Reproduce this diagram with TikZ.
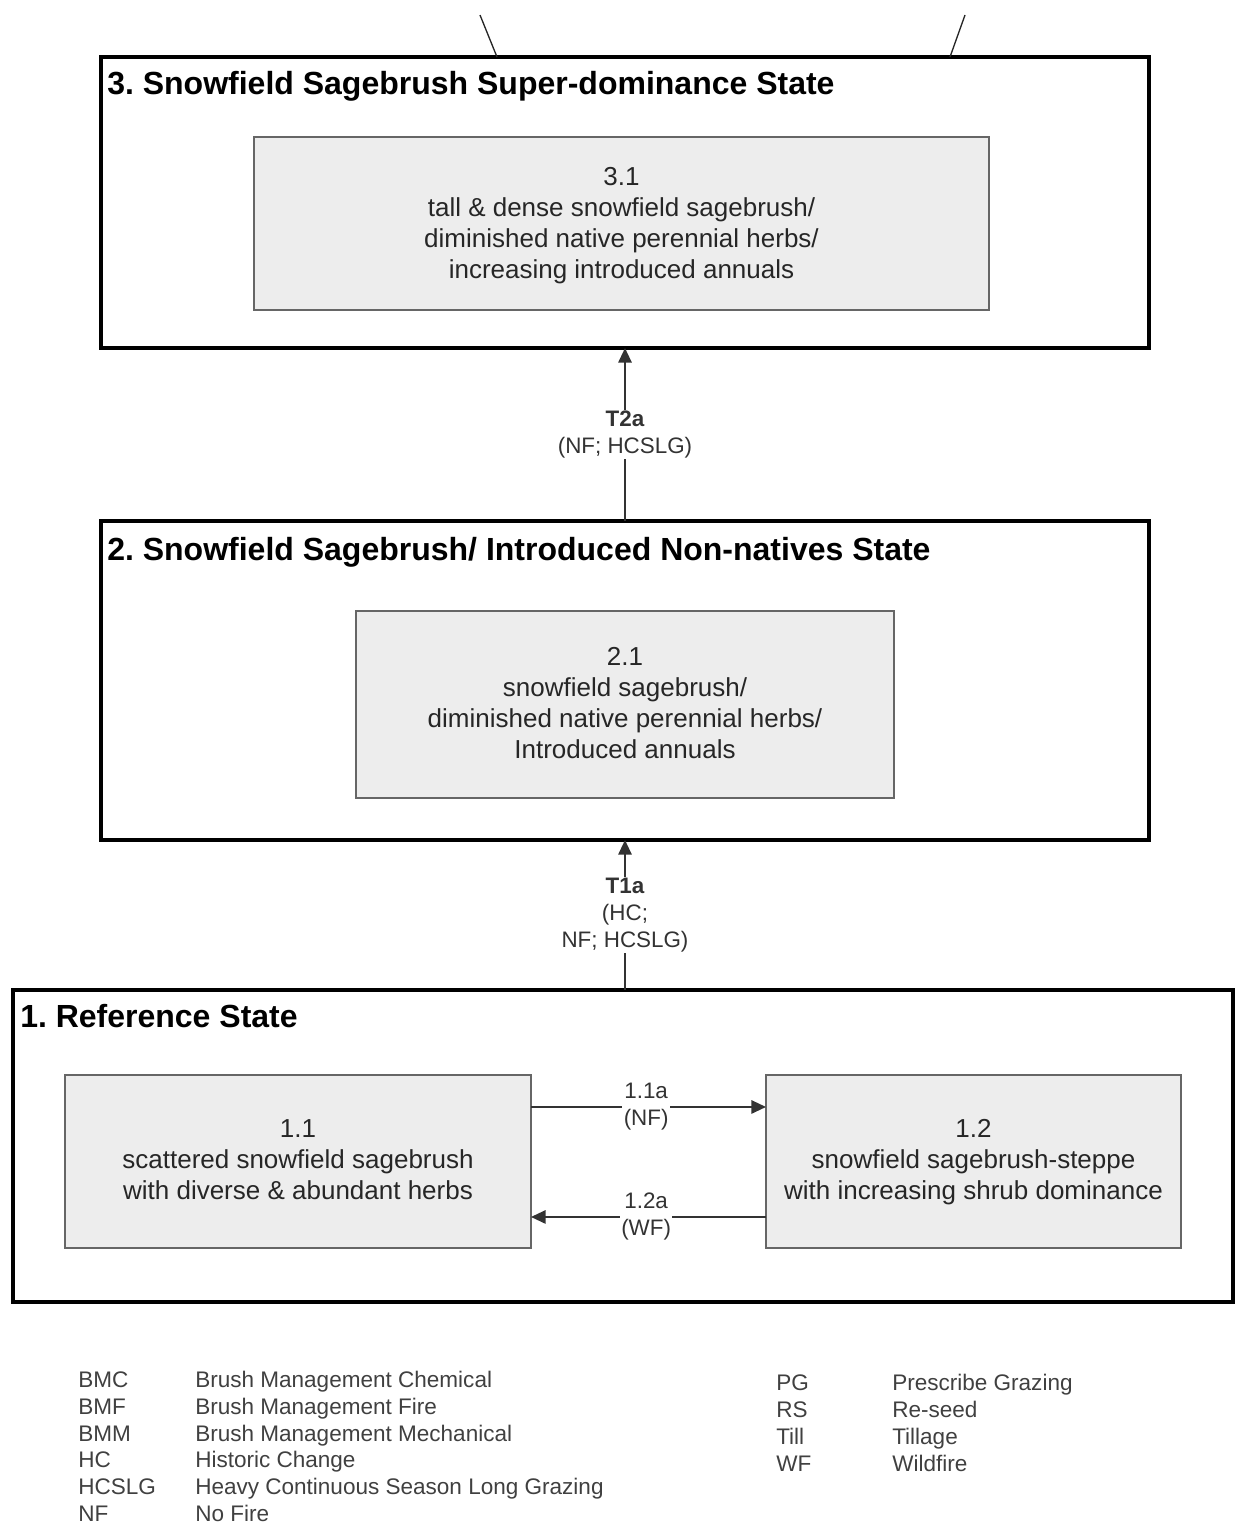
\documentclass[tikz,border=0pt]{standalone}
\usepackage{fontspec}
\setmainfont{Liberation Sans}
\usetikzlibrary{fit,arrows.meta}
\frenchspacing
\begin{document}
\begin{tikzpicture}[x=0.75pt,y=-0.75pt,
  statebox/.style={draw=black,line width=3pt,inner sep=0pt,outer sep=0pt},
  phase/.style={draw=black!60,line width=1pt,fill=black!7,inner sep=0pt,outer sep=0pt},
  phasetext/.style={align=center,inner sep=0pt,font=\fontsize{19.5}{23.25}\selectfont,text=black!85},
  statetitle/.style={anchor=base west,inner sep=0pt,font=\bfseries\fontsize{24}{28}\selectfont},
  lbl/.style={fill=white,align=center,inner sep=1pt,font=\fontsize{16.8}{20.25}\selectfont,text=black!80},
  arr/.style={draw=black!80,line width=1.5pt,-{Triangle[length=11pt,width=10pt]}},
  edge/.style={draw=black!85,line width=1pt},
  legend/.style={anchor=base west,inner sep=0pt,font=\fontsize{16.9}{20}\selectfont,text=black!75},
]
\useasboundingbox (0,0) rectangle (1235,1524);

% State 3
\node[statebox, fit={(101,57) (1149,348)}] (s3) {};
\node[statetitle] (s3t) at (107,94) {3. Snowfield Sagebrush Super-dominance State};
\node[phase, fit={(254,137) (989,310)}] (p31) {};
\node[phasetext, yshift=-1.5pt] (x31) at (p31.center) {3.1\\tall \& dense snowfield sagebrush/\\diminished native perennial herbs/\\increasing introduced annuals};

% lines leaving the top
\coordinate (up1) at (480,15);
\coordinate (up2) at (965,15);
\draw[edge] (up1) -- ([xshift=297pt]s3.north west);
\draw[edge] (up2) -- ([xshift=636.75pt]s3.north west);

% State 2
\node[statebox, fit={(101,521) (1149,840)}] (s2) {};
\node[statetitle] (s2t) at (107,560) {2. Snowfield Sagebrush/ Introduced Non-natives State};
\node[phase, fit={(356,611) (894,798)}] (p21) {};
\node[phasetext, yshift=0.75pt] (x21) at (p21.center) {2.1\\snowfield sagebrush/\\diminished native perennial herbs/\\Introduced annuals};

% State 1
\node[statebox, fit={(13,990) (1233,1302)}] (s1) {};
\node[statetitle] (s1t) at (20,1027) {1. Reference State};
\node[phase, fit={(65,1075) (531,1248)}] (p11) {};
\node[phasetext, yshift=1.15pt] (x11) at (p11.center) {1.1\\scattered snowfield sagebrush\\with diverse \& abundant herbs};
\node[phase, fit={(766,1075) (1181,1248)}] (p12) {};
\node[phasetext, yshift=-0.35pt] (x12) at (p12.center) {1.2\\snowfield sagebrush-steppe\\with increasing shrub dominance};

% transitions
\draw[arr] (s2.north) -- node[lbl] (lT2a) {\textbf{T2a}\\(NF; HCSLG)} (s3.south);
\draw[arr] (s1.north -| s2.north) -- node[lbl] (lT1a) {\textbf{T1a}\\(HC;\\NF; HCSLG)} (s2.south);
\draw[arr] ([yshift=40.9pt]p11.east) -- node[lbl,pos=0.49] (l11a) {1.1a\\(NF)} ([yshift=40.9pt]p12.west);
\draw[arr] ([yshift=-41.6pt]p12.west) -- node[lbl,pos=0.51] (l12a) {1.2a\\(WF)} ([yshift=-41.6pt]p11.east);

% legend
\node[legend] (la1) at (78,1387) {BMC};   \node[legend] (ld1) at (195,1387) {Brush Management Chemical};
\node[legend] (la2) at (78,1414) {BMF};   \node[legend] (ld2) at (195,1414) {Brush Management Fire};
\node[legend] (la3) at (78,1441) {BMM};   \node[legend] (ld3) at (195,1441) {Brush Management Mechanical};
\node[legend] (la4) at (78,1467) {HC};    \node[legend] (ld4) at (195,1467) {Historic Change};
\node[legend] (la5) at (78,1494) {HCSLG}; \node[legend] (ld5) at (195,1494) {Heavy Continuous Season Long Grazing};
\node[legend] (la6) at (78,1521) {NF};    \node[legend] (ld6) at (195,1521) {No Fire};

\node[legend] (lb1) at (776,1390) {PG};   \node[legend] (le1) at (892,1390) {Prescribe Grazing};
\node[legend] (lb2) at (776,1417) {RS};   \node[legend] (le2) at (892,1417) {Re-seed};
\node[legend] (lb3) at (776,1444) {Till}; \node[legend] (le3) at (892,1444) {Tillage};
\node[legend] (lb4) at (776,1471) {WF};   \node[legend] (le4) at (892,1471) {Wildfire};
\end{tikzpicture}
\end{document}
